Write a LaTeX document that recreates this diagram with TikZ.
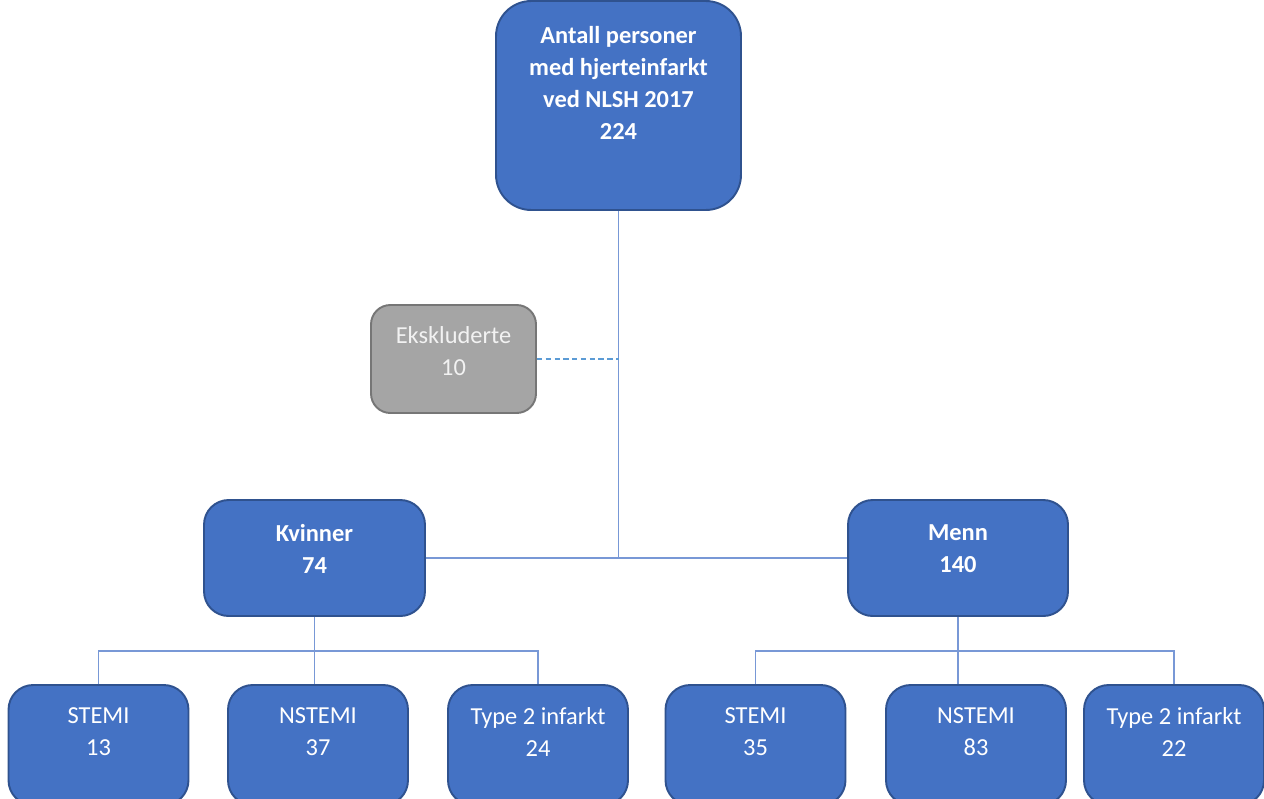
\documentclass[tikz,border=0pt]{standalone}
\usepackage{fontspec}
\setmainfont{Carlito}
\usetikzlibrary{positioning}
\definecolor{boxblue}{RGB}{68,114,196}
\definecolor{boxedge}{RGB}{47,82,143}
\definecolor{linkblue}{RGB}{120,152,214}
\definecolor{dashblue}{RGB}{91,155,213}
\definecolor{exclgray}{RGB}{165,165,165}
\definecolor{excledge}{RGB}{118,118,118}
\definecolor{excltext}{RGB}{242,242,242}
\tikzset{
  bluebox/.style={draw=boxedge, fill=boxblue, line width=1.1pt, inner sep=0pt},
  graybox/.style={draw=excledge, fill=exclgray, line width=1.1pt, inner sep=0pt, rounded corners=11pt},
  lbl/.style={text=white, align=center, inner sep=0pt, font=\fontsize{13.9}{18.2}\selectfont},
  link/.style={draw=linkblue, line width=0.8pt},
}

\begin{document}
\begin{tikzpicture}[x=0.02cm, y=-0.02cm]
  \useasboundingbox (0,0) rectangle (1264,798);
  \clip (0,0) rectangle (1264,798);
  % boxes
  \node[bluebox, rounded corners=20pt, minimum width=4.9cm, minimum height=4.18cm] (top) at (618.5,105.5) {};
  \node[graybox, minimum width=3.3cm, minimum height=2.16cm] (excl) at (453.5,359) {};
  \node[bluebox, rounded corners=14pt, minimum width=4.42cm, minimum height=2.32cm] (kvinner) at (314.5,558) {};
  \node[bluebox, rounded corners=14pt, minimum width=4.4cm, minimum height=2.32cm] (menn) at (958,558) {};
  \foreach \n/\x in {k1/98.5, k2/318, k3/538, m1/755.5, m2/976, m3/1174} {
    \node[bluebox, rounded corners=14pt, minimum width=3.6cm, minimum height=2.4cm] (\n) at (\x,745) {};
  }
  % texts
  \node[lbl, font=\fontsize{13.9}{18.2}\bfseries] (top-txt) at (618.5,82.5) {Antall personer\\med hjerteinfarkt\\ved NLSH 2017\\224};
  \node[lbl, text=excltext] (excl-txt) at (453.5,351) {Ekskluderte\\10};
  \node[lbl, font=\fontsize{13.9}{18.2}\bfseries] (kvinner-txt) at (314.5,549) {Kvinner\\74};
  \node[lbl, font=\fontsize{13.9}{18.2}\bfseries] (menn-txt) at (958,549) {Menn\\140};
  \foreach \n/\t/\v in {k1/STEMI/13, k2/NSTEMI/37, k3/Type 2 infarkt/24, m1/STEMI/35, m2/NSTEMI/83, m3/Type 2 infarkt/22} {
    \node[lbl] (\n-txt) at (\n |- 0,732) {\t\\\v};
  }
  % connectors
  \coordinate (hub) at (top.south |- kvinner.east);
  \draw[link] (top.south) -- (hub);
  \draw[link] (kvinner.east) -- (menn.west);
  \draw[dashblue, line width=0.8pt, dash pattern=on 3pt off 2pt] (excl.east) -- (top.south |- excl.east);
  \draw[link] (kvinner.south) -- (kvinner.south |- k2.north);
  \draw[link] (k1.north) -- ++(0,-33) -| (k3.north);
  \draw[link] (menn.south) -- (menn.south |- m2.north);
  \draw[link] (m1.north) -- ++(0,-33) -| (m3.north);
\end{tikzpicture}
\end{document}
